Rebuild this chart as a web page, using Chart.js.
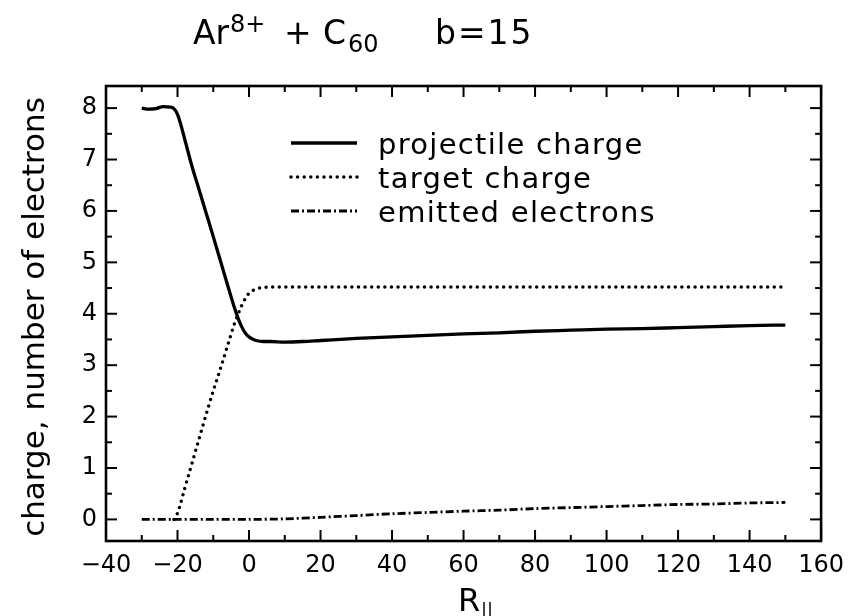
<!DOCTYPE html>
<html>
<head>
<meta charset="utf-8">
<script src="https://cdn.jsdelivr.net/npm/chart.js@4.4.1/dist/chart.umd.min.js"></script>
<style>
  html, body { margin: 0; padding: 0; background: #fff; }
  #wrap { width: 854px; height: 616px; }
</style>
</head>
<body>
<div id="wrap"><canvas id="chargeChart" width="854" height="616"></canvas></div>
<script>
// values, R_parallel on x
const projX = [-30, -28, -26, -24, -22, -21, -20, -19, -18, -16, -14, -12, -10, -8, -6, -4, -3, -2, -1, 0, 1, 2, 4, 6, 10, 15, 20, 30, 40, 50, 60, 70, 80, 90, 100, 110, 120, 130, 140, 150];
const projY = [8.00, 7.98, 7.99, 8.03, 8.02, 7.99, 7.88, 7.66, 7.40, 6.88, 6.42, 5.96, 5.50, 5.03, 4.56, 4.10, 3.90, 3.74, 3.62, 3.55, 3.51, 3.48, 3.46, 3.46, 3.45, 3.46, 3.48, 3.52, 3.55, 3.58, 3.61, 3.63, 3.66, 3.68, 3.70, 3.71, 3.73, 3.75, 3.77, 3.78];

const targX = [-21, -20, -18, -16, -14, -12, -10, -8, -6, -4, -3, -2, -1, 0, 2, 4, 6, 10, 20, 40, 60, 80, 100, 120, 140, 150];
const targY = [0.00, 0.12, 0.60, 1.08, 1.56, 2.04, 2.50, 2.93, 3.38, 3.82, 4.00, 4.17, 4.30, 4.40, 4.48, 4.51, 4.52, 4.52, 4.52, 4.52, 4.52, 4.52, 4.52, 4.52, 4.52, 4.52];

const emitX = [-30, -20, -10, 0, 10, 20, 30, 40, 50, 60, 70, 80, 90, 100, 110, 120, 130, 140, 150];
const emitY = [0.00, 0.00, 0.00, 0.00, 0.01, 0.04, 0.075, 0.11, 0.135, 0.16, 0.18, 0.21, 0.23, 0.25, 0.27, 0.29, 0.30, 0.32, 0.33];

const seriesNames = ['projectile charge', 'target charge', 'emitted electrons'];

const xTicks = [-40, -20, 0, 20, 40, 60, 80, 100, 120, 140, 160];
const xMinor = [-30, -10, 10, 30, 50, 70, 90, 110, 130, 150];
const yTicks = [0, 1, 2, 3, 4, 5, 6, 7, 8];
const yMinor = [0.5, 1.5, 2.5, 3.5, 4.5, 5.5, 6.5, 7.5];

const FONT = 'DejaVu Sans';

function toPoints(xs, ys) {
    return xs.map((x, i) => ({ x: x, y: ys[i] }));
}

// box round the plot with inward ticks on all four sides
const frameTicks = {
    id: 'frameTicks',
    afterDatasetsDraw(chart) {
        const { ctx, chartArea: a, scales: { x, y } } = chart;
        ctx.save();
        ctx.strokeStyle = '#000';
        ctx.lineWidth = 2;
        const seg = (x1, y1, x2, y2) => {
            ctx.beginPath();
            ctx.moveTo(x1, y1);
            ctx.lineTo(x2, y2);
            ctx.stroke();
        };
        xTicks.forEach(v => {
            const px = x.getPixelForValue(v);
            seg(px, a.bottom, px, a.bottom - 11);
            seg(px, a.top, px, a.top + 11);
        });
        xMinor.forEach(v => {
            const px = x.getPixelForValue(v);
            seg(px, a.bottom, px, a.bottom - 6);
            seg(px, a.top, px, a.top + 6);
        });
        yTicks.forEach(v => {
            const py = y.getPixelForValue(v);
            seg(a.left, py, a.left + 11, py);
            seg(a.right, py, a.right - 11, py);
        });
        yMinor.forEach(v => {
            const py = y.getPixelForValue(v);
            seg(a.left, py, a.left + 6, py);
            seg(a.right, py, a.right - 6, py);
        });
        ctx.lineWidth = 2.6;
        ctx.strokeRect(a.left, a.top, a.right - a.left, a.bottom - a.top);
        ctx.restore();
    }
};

// title, axis titles and the legend (need super/subscripts)
const labels = {
    id: 'labels',
    afterDraw(chart) {
        const { ctx } = chart;
        ctx.save();
        ctx.fillStyle = '#000';
        ctx.textBaseline = 'alphabetic';
        ctx.textAlign = 'left';

        // title
        ctx.font = '33px ' + FONT;
        ctx.fillText('Ar', 193, 44);
        ctx.font = '24px ' + FONT;
        ctx.fillText('8+', 230, 32);
        ctx.font = '33px ' + FONT;
        ctx.fillText('+', 284, 44);
        ctx.fillText('C', 323, 44);
        ctx.font = '24px ' + FONT;
        ctx.fillText('60', 348, 52);
        ctx.font = '33px ' + FONT;
        ctx.letterSpacing = '2px';
        ctx.fillText('b=15', 435, 44);
        ctx.letterSpacing = '0px';

        // x title
        ctx.font = '32px ' + FONT;
        ctx.fillText('R', 458, 611);
        ctx.font = '18px ' + FONT;
        ctx.fillText('||', 481, 616);

        // y title
        ctx.save();
        ctx.translate(44, 317);
        ctx.rotate(-Math.PI / 2);
        ctx.textAlign = 'center';
        ctx.font = '31px ' + FONT;
        ctx.fillText('charge, number of electrons', 0, 0);
        ctx.restore();

        // legend
        const baselines = [154, 188, 222];
        chart.data.datasets.forEach((ds, i) => {
            const by = baselines[i];
            ctx.save();
            ctx.strokeStyle = ds.borderColor;
            ctx.lineWidth = ds.borderWidth;
            ctx.setLineDash(ds.borderDash || []);
            ctx.lineCap = ds.borderCapStyle || 'butt';
            ctx.beginPath();
            ctx.moveTo(291, by - 11);
            ctx.lineTo(357, by - 11);
            ctx.stroke();
            ctx.restore();
            ctx.font = '29px ' + FONT;
            ctx.letterSpacing = '1.3px';
            ctx.fillText(ds.label, 378, by);
            ctx.letterSpacing = '0px';
        });
        ctx.restore();
    }
};

const ctx = document.getElementById('chargeChart').getContext('2d');
new Chart(ctx, {
    type: 'line',
    data: {
        datasets: [{
            label: seriesNames[0],
            data: toPoints(projX, projY),
            borderColor: '#000',
            borderWidth: 3.3,
            pointRadius: 0,
            cubicInterpolationMode: 'monotone'
        },
        {
            label: seriesNames[1],
            data: toPoints(targX, targY),
            borderColor: '#000',
            borderWidth: 3.5,
            borderDash: [0, 6.6],
            borderCapStyle: 'round',
            pointRadius: 0,
            cubicInterpolationMode: 'monotone'
        },
        {
            label: seriesNames[2],
            data: toPoints(emitX, emitY),
            borderColor: '#000',
            borderWidth: 2.8,
            borderDash: [8, 3, 2, 3],
            pointRadius: 0,
            tension: 0.3
        }]
    },
    options: {
        responsive: false,
        animation: false,
        devicePixelRatio: 1,
        layout: { padding: { top: 86, right: 28, left: 0, bottom: 0 } },
        plugins: {
            legend: { display: false },
            tooltip: { enabled: false }
        },
        scales: {
            x: {
                type: 'linear',
                min: -40,
                max: 160,
                afterBuildTicks: s => { s.ticks = xTicks.map(v => ({ value: v })); },
                afterFit: s => { s.height = 75; },
                grid: { display: false, drawTicks: false },
                border: { display: false },
                ticks: {
                    font: { family: FONT, size: 24 },
                    color: '#000',
                    padding: 10,
                    maxRotation: 0,
                    autoSkip: false,
                    callback: v => String(v).replace('-', '\u2212')
                }
            },
            y: {
                type: 'linear',
                min: -0.42,
                max: 8.43,
                afterBuildTicks: s => { s.ticks = yTicks.map(v => ({ value: v })); },
                afterFit: s => { s.width = 106; },
                grid: { display: false, drawTicks: false },
                border: { display: false },
                ticks: {
                    font: { family: FONT, size: 24 },
                    color: '#000',
                    padding: 9
                }
            }
        }
    },
    plugins: [frameTicks, labels]
});
</script>
</body>
</html>
